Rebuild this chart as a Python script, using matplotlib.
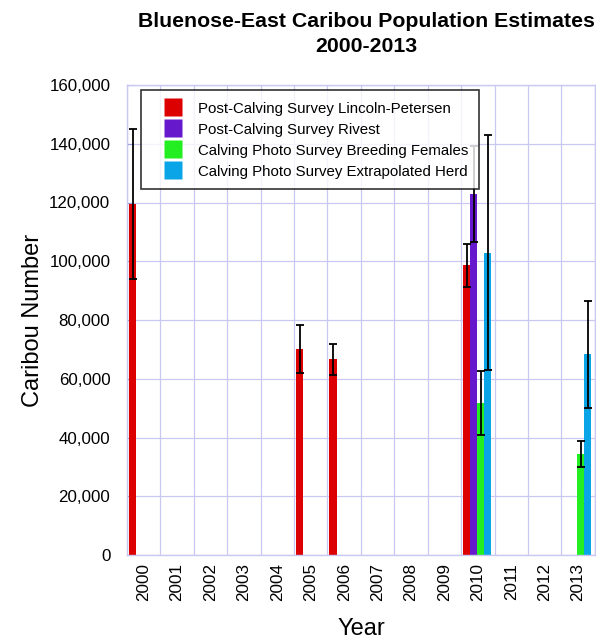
import numpy as np
import matplotlib
matplotlib.use("Agg")
import matplotlib.pyplot as plt
from matplotlib.lines import Line2D
from matplotlib.ticker import FuncFormatter, MultipleLocator

plt.rcParams['font.family'] = ['Liberation Sans', 'DejaVu Sans']

years = ['2000', '2001', '2002', '2003', '2004', '2005', '2006',
         '2007', '2008', '2009', '2010', '2011', '2012', '2013']
nan = np.nan
# values per year (NaN = no survey)
lincoln_petersen = [119500, nan, nan, nan, nan, 70000, 66600, nan, nan, nan, 98600, nan, nan, nan]
lincoln_petersen_err = [25500, nan, nan, nan, nan, 8200, 5200, nan, nan, nan, 7300, nan, nan, nan]
rivest = [nan] * 10 + [122900, nan, nan, nan]
rivest_err = [nan] * 10 + [16500, nan, nan, nan]
breeding_females = [nan] * 10 + [51800, nan, nan, 34300]
breeding_females_err = [nan] * 10 + [11000, nan, nan, 4400]
extrapolated_herd = [nan] * 10 + [102900, nan, nan, 68300]
extrapolated_herd_err = [nan] * 10 + [40000, nan, nan, 18300]

series_names = ['Post-Calving Survey Lincoln-Petersen',
                'Post-Calving Survey Rivest',
                'Calving Photo Survey Breeding Females',
                'Calving Photo Survey Extrapolated Herd']
series_vals = [lincoln_petersen, rivest, breeding_females, extrapolated_herd]
series_errs = [lincoln_petersen_err, rivest_err, breeding_females_err, extrapolated_herd_err]
colors = ['#dd0000', '#6619cc', '#22ee22', '#0aa5e6']

fig = plt.figure(figsize=(5.96, 6.39), dpi=100)
ax = fig.add_axes([127/596, 1 - 555/639, 469/596 - 0.002, 470/639])

x = np.arange(len(years))
w = 0.21
grid_c = '#c8c8f2'
for k, (vals, errs, c) in enumerate(zip(series_vals, series_errs, colors)):
    xp = x + (k - 1.5) * w - 0.02
    vals = np.array(vals, dtype=float)
    errs = np.array(errs, dtype=float)
    ax.bar(xp, vals, width=w, color=c, edgecolor='none', zorder=2)
    ax.errorbar(xp, vals, yerr=errs, fmt='none', ecolor='black',
                elinewidth=1.3, capsize=3.2, capthick=1.3, zorder=3)

ax.set_xlim(-0.5, len(years) - 0.5)
ax.set_ylim(0, 160000)
ax.yaxis.set_major_locator(MultipleLocator(20000))
ax.yaxis.set_major_formatter(FuncFormatter(lambda v, p: f'{int(v):,}'))
ax.set_xticks(x)
ax.set_xticklabels(years, rotation=90, fontsize=12.3)
ax.set_xticks(np.arange(len(years) + 1) - 0.5, minor=True)
ax.tick_params(axis='x', which='major', length=0, pad=6)
ax.tick_params(axis='x', which='minor', length=0)
ax.tick_params(axis='y', which='major', direction='in', length=4, color='#9999dd',
               labelsize=12.2, pad=12)
ax.grid(True, axis='y', which='major', color=grid_c, linewidth=0.9, zorder=0)
ax.grid(True, axis='x', which='minor', color=grid_c, linewidth=0.9, zorder=0)
ax.set_axisbelow(True)
for s in ax.spines.values():
    s.set_color(grid_c)
    s.set_linewidth(1.0)

ax.set_ylabel('Caribou Number', fontsize=17, labelpad=4)
ax.set_xlabel('Year', fontsize=17, labelpad=12)

fig.text(0.614, 0.982, 'Bluenose-East Caribou Population Estimates\n2000-2013',
         ha='center', va='top', fontsize=15.3, fontweight='bold', linespacing=1.45)

handles = [Line2D([], [], linestyle='none', marker='s', markersize=13,
                  markerfacecolor=c, markeredgecolor='none') for c in colors]
leg = ax.legend(handles, series_names, loc='upper left', bbox_to_anchor=(0.03, 0.989),
                borderaxespad=0, fontsize=10.8, frameon=True, fancybox=False,
                edgecolor='black', handlelength=2.9, handleheight=1.0,
                handletextpad=0.2, labelspacing=0.42, borderpad=0.7)
leg.get_frame().set_linewidth(1.2)
leg.set_zorder(5)

fig.savefig('out.png', dpi=100)
